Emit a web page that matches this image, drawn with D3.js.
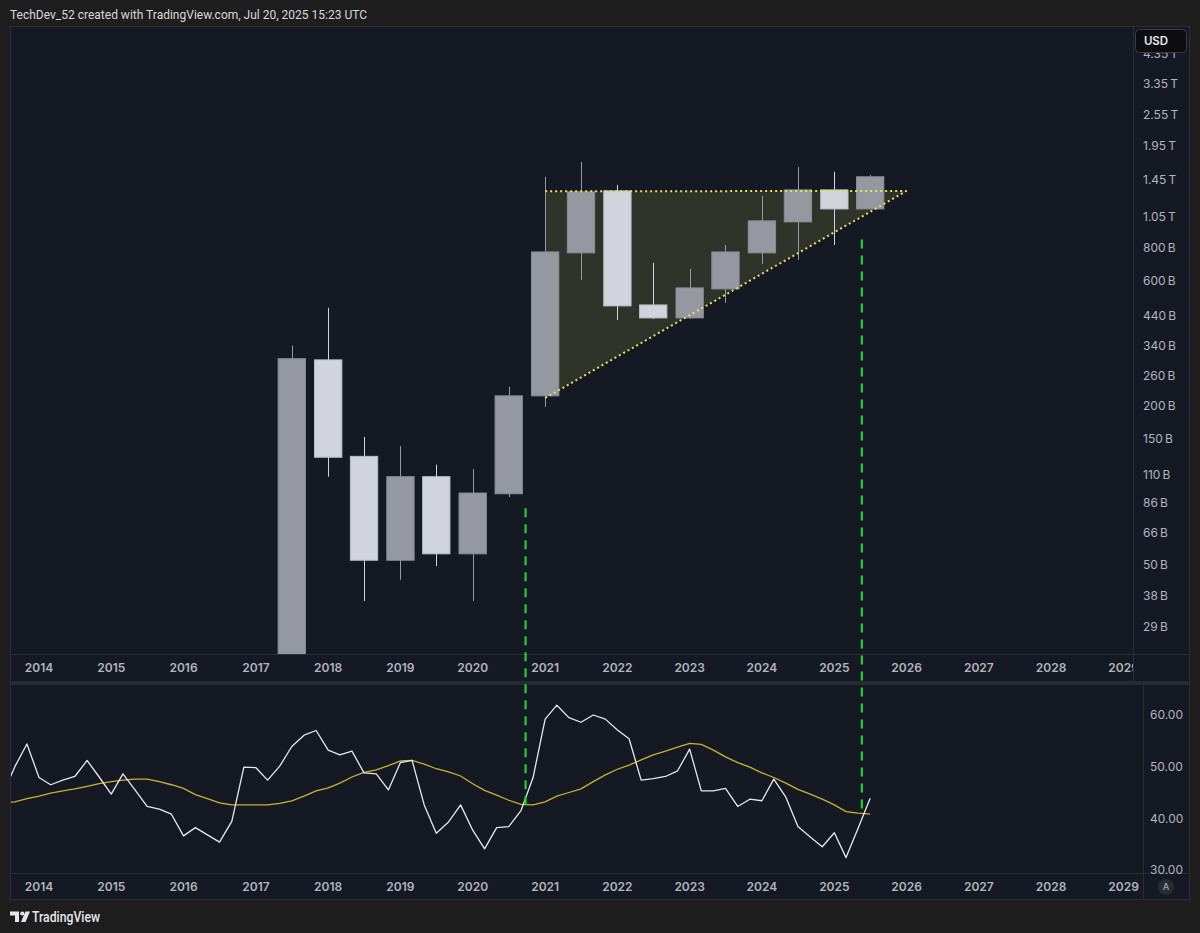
<!DOCTYPE html>
<html><head><meta charset="utf-8">
<script src="https://cdn.jsdelivr.net/npm/d3@7"></script>
<style>html,body{margin:0;padding:0;background:#1e1e1e;}svg{display:block;}</style>
</head><body><svg id="c" width="1200" height="933"></svg>
<script>
// ---------- DATA ----------
const candleDates = ["2017-07-01","2018-01-01","2018-07-01","2019-01-01","2019-07-01","2020-01-01","2020-07-01","2021-01-01","2021-07-01","2022-01-01","2022-07-01","2023-01-01","2023-07-01","2024-01-01","2024-07-01","2025-01-01","2025-07-01"];
const opens  = [20e9, 300e9, 129e9, 52e9, 108e9, 55e9, 93e9, 219e9, 765e9, 1315e9, 485e9, 433e9, 558e9, 765e9, 1003e9, 1327e9, 1123e9];
const highs  = [340e9, 473e9, 153e9, 141e9, 120e9, 115.5e9, 237e9, 1488e9, 1694e9, 1387e9, 701e9, 665e9, 820e9, 1259e9, 1622e9, 1554e9, 1514e9];
const lows   = [18e9, 108e9, 36.4e9, 43.8e9, 49.4e9, 36.4e9, 90.4e9, 199e9, 604e9, 425e9, 429e9, 430e9, 494e9, 695e9, 719e9, 820e9, 1123e9];
const closes = [303e9, 128e9, 52e9, 108e9, 55e9, 93.6e9, 219e9, 771e9, 1304e9, 481e9, 433e9, 563e9, 771e9, 1012e9, 1327e9, 1123e9, 1488e9];

const priceTicks = [29e9, 38e9, 50e9, 66e9, 86e9, 110e9, 150e9, 200e9, 260e9, 340e9, 440e9, 600e9, 800e9, 1.05e12, 1.45e12, 1.95e12, 2.55e12, 3.35e12, 4.35e12];
const yearTicks = [2014, 2015, 2016, 2017, 2018, 2019, 2020, 2021, 2022, 2023, 2024, 2025, 2026, 2027, 2028, 2029];
const rsiTicks = [30, 40, 50, 60];

// RSI (2-month bars), starting Jul 2013
const rsiStart = "2013-07-01";
const rsiValues = [44.5, 50.0, 54.4, 47.9, 46.5, 47.4, 48.1, 51.2, 48.0, 44.7, 48.6, 45.5, 42.3, 41.8, 40.8, 36.6, 38.2, 36.8, 35.4, 39.4,
  49.9, 49.8, 47.4, 50.1, 53.9, 56.1, 57.0, 53.2, 52.3, 53.0, 48.8, 48.6, 45.5, 50.8, 51.2, 42.6, 37.1, 39.3, 42.6, 37.7,
  34.1, 38.2, 38.4, 41.5, 47.9, 59.2, 61.9, 59.5, 58.6, 60.0, 59.2, 57.1, 55.4, 47.4, 47.7, 48.1, 49.2, 53.4, 45.3, 45.3,
  45.8, 42.3, 43.7, 43.4, 47.6, 44.1, 38.4, 36.4, 34.5, 37.2, 32.4, 38.1, 43.9];
const rsiMaValues = [43.0, 43.2, 43.8, 44.3, 44.9, 45.3, 45.7, 46.2, 46.7, 47.1, 47.4, 47.6, 47.6, 47.1, 46.5, 45.8, 44.6, 43.8, 43.0, 42.6,
  42.6, 42.6, 42.6, 42.9, 43.4, 44.3, 45.3, 45.9, 46.8, 48.0, 48.9, 49.4, 50.2, 51.1, 51.2, 50.5, 49.6, 49.0, 48.2, 46.7,
  45.4, 44.5, 43.5, 42.7, 42.6, 43.2, 44.3, 45.0, 45.7, 47.1, 48.4, 49.5, 50.3, 51.3, 52.3, 53.0, 53.8, 54.5, 54.3, 53.2,
  51.9, 50.8, 49.9, 48.8, 47.9, 46.8, 45.6, 44.7, 43.7, 42.6, 41.3, 41.0, 40.8];

// Triangle drawing (date, value)
const triDates = ["2021-01-01", "2026-01-01", "2021-01-01"];
const triValues = [1.31e12, 1.315e12, 215e9];

// Green dashed verticals: date, top (price), bottom (RSI)
const markerDates = ["2020-09-24", "2025-05-20"];
const markerTopPrice = [82e9, 859e9];
const markerBottomRsi = [41.4, 40.8];

// ---------- LAYOUT ----------
const svg = d3.select("#c");
const PL = 10, PR = 1190, PT = 26, PB = 900;
const priceRight = 1133, priceBottom = 654;
const axis1Bottom = 681, rsiTop = 685, rsiRight = 1143, rsiBottom = 873;
const BG = "#151924", LINE = "#2a2e39", TXT = "#b2b5be";
const FONT = "Inter, 'Noto Sans', sans-serif";
const FONT2 = "Roboto, 'Noto Sans', sans-serif";

const parse = d3.utcParse("%Y-%m-%d");
const x = d3.scaleUtc().domain([Date.UTC(2014,0,1), Date.UTC(2026,0,1)]).range([39, 906.6]);
const y = d3.scaleLog().domain([29e9, 3.35e12]).range([627, 84]);
const yr = d3.scaleLinear().domain([30, 60]).range([870, 715]);

// backgrounds
svg.append("rect").attr("width",1200).attr("height",933).attr("fill","#1e1e1e");
svg.append("rect").attr("x",PL).attr("y",PT).attr("width",PR-PL).attr("height",PB-PT).attr("fill",BG);
svg.append("rect").attr("x",PL).attr("y",axis1Bottom).attr("width",PR-PL).attr("height",rsiTop-axis1Bottom).attr("fill","#262a33");
const g0 = svg.append("g").attr("stroke",LINE).attr("stroke-width",1).attr("fill","none");
g0.append("rect").attr("x",PL+0.5).attr("y",PT+0.5).attr("width",PR-PL-1).attr("height",PB-PT-1);
g0.append("line").attr("x1",PL).attr("x2",PR).attr("y1",priceBottom+0.5).attr("y2",priceBottom+0.5);
g0.append("line").attr("x1",PL).attr("x2",PR).attr("y1",rsiBottom+0.5).attr("y2",rsiBottom+0.5);
g0.append("line").attr("x1",priceRight+0.5).attr("x2",priceRight+0.5).attr("y1",PT).attr("y2",axis1Bottom);
g0.append("line").attr("x1",rsiRight+0.5).attr("x2",rsiRight+0.5).attr("y1",rsiTop).attr("y2",PB);

// clips
const defs = svg.append("defs");
defs.append("clipPath").attr("id","cp").append("rect").attr("x",PL+1).attr("y",PT+1).attr("width",priceRight-PL-1).attr("height",priceBottom-PT-1);
defs.append("clipPath").attr("id","cr").append("rect").attr("x",PL+1).attr("y",rsiTop).attr("width",rsiRight-PL-1).attr("height",rsiBottom-rsiTop);
defs.append("clipPath").attr("id","ct1").append("rect").attr("x",PL+1).attr("y",priceBottom).attr("width",priceRight-PL-1).attr("height",axis1Bottom-priceBottom);
defs.append("clipPath").attr("id","ct2").append("rect").attr("x",PL+1).attr("y",rsiBottom).attr("width",rsiRight-PL-1).attr("height",PB-rsiBottom);
defs.append("clipPath").attr("id","cg").append("rect").attr("x",PL+1).attr("y",PT+1).attr("width",priceRight-PL-1).attr("height",rsiBottom-PT-1);

// ---------- PRICE PANE ----------
const gp = svg.append("g").attr("clip-path","url(#cp)");
const triPts = triDates.map((d,i)=>[x(parse(d)), y(triValues[i])]);
gp.append("path").attr("d", d3.line()(triPts) + "Z").attr("fill","rgba(185,185,70,0.17)");

const candles = candleDates.map((d,i)=>({t:parse(d), o:opens[i], h:highs[i], l:lows[i], c:closes[i]}));
const bw = (x(parse("2018-01-01")) - x(parse("2017-07-01"))) * 0.75;
const col = d => d.c >= d.o ? "#9598a1" : "#d1d4dc";
const gc = gp.selectAll("g.cd").data(candles).join("g");
gc.append("line").attr("x1",d=>Math.round(x(d.t))+0.5).attr("x2",d=>Math.round(x(d.t))+0.5)
  .attr("y1",d=>y(d.h)).attr("y2",d=>y(d.l)).attr("stroke",col).attr("stroke-width",1);
gc.append("rect").attr("x",d=>x(d.t)-bw/2).attr("width",bw)
  .attr("y",d=>y(Math.max(d.o,d.c))).attr("height",d=>Math.max(1,y(Math.min(d.o,d.c))-y(Math.max(d.o,d.c))))
  .attr("fill",col).attr("stroke",d=>d.c>=d.o?"#8a8d96":"#babdc6").attr("stroke-width",1);

gp.append("path").attr("d", d3.line()([triPts[0],triPts[1]])).attr("stroke","#e6e35a").attr("stroke-width",2).attr("stroke-dasharray","2,3").attr("fill","none");
gp.append("path").attr("d", d3.line()([triPts[2],triPts[1]])).attr("stroke","#e6e35a").attr("stroke-width",2).attr("stroke-dasharray","2,3").attr("fill","none");

// price axis labels
const fmtP = v => v >= 1e12 ? d3.format(".2f")(v/1e12) + "\u2009T" : d3.format("d")(v/1e9) + "\u2009B";
svg.append("g").selectAll("text").data(priceTicks).join("text")
  .attr("x",1143).attr("y",d=>y(d)).attr("dy","0.35em")
  .attr("font-family",FONT).attr("font-size",12).attr("fill",TXT).text(fmtP);
svg.append("rect").attr("x",1135.5).attr("y",29.5).attr("width",51).attr("height",23).attr("rx",4)
  .attr("fill","#0c0d10").attr("stroke","#3a3d46");
svg.append("text").attr("x",1156).attr("y",41).attr("dy","0.35em").attr("text-anchor","middle")
  .attr("font-family",FONT).attr("font-size",11.5).attr("font-weight",600).attr("fill","#e8e9ec").text("USD");

// time axis 1
const yrDate = v => new Date(Date.UTC(v,0,1));
svg.append("g").attr("clip-path","url(#ct1)").selectAll("text").data(yearTicks).join("text")
  .attr("x",d=>x(yrDate(d))).attr("y",668).attr("dy","0.35em").attr("text-anchor","middle")
  .attr("font-family",FONT).attr("font-size",12).attr("font-weight",600).attr("fill",TXT).text(d=>d);

// ---------- RSI PANE ----------
const rsiDates = rsiValues.map((_,i)=>d3.utcMonth.offset(parse(rsiStart), 2*i));
const gr = svg.append("g").attr("clip-path","url(#cr)");
const lineR = d3.line().x((d,i)=>x(rsiDates[i])).y(d=>yr(d));
gr.append("path").attr("d", lineR(rsiMaValues)).attr("fill","none").attr("stroke","#c9b52c").attr("stroke-width",1.3);
gr.append("path").attr("d", lineR(rsiValues)).attr("fill","none").attr("stroke","#e6e8ee").attr("stroke-width",1.3).attr("stroke-linejoin","round");

svg.append("g").selectAll("text").data(rsiTicks).join("text")
  .attr("x",1150).attr("y",d=>yr(d)).attr("dy","0.35em")
  .attr("font-family",FONT).attr("font-size",12).attr("fill",TXT).text(d=>d3.format(".2f")(d));

svg.append("g").attr("clip-path","url(#ct2)").selectAll("text").data(yearTicks).join("text")
  .attr("x",d=>x(yrDate(d))).attr("y",887).attr("dy","0.35em").attr("text-anchor","middle")
  .attr("font-family",FONT).attr("font-size",12).attr("font-weight",600).attr("fill",TXT).text(d=>d);
svg.append("circle").attr("cx",1166).attr("cy",887).attr("r",8).attr("fill","#2a2d35");
svg.append("text").attr("x",1166).attr("y",887).attr("dy","0.35em").attr("text-anchor","middle")
  .attr("font-family",FONT).attr("font-size",9).attr("font-weight",600).attr("fill","#9598a1").text("A");

// ---------- GREEN MARKERS ----------
const gg = svg.append("g").attr("clip-path","url(#cg)");
markerDates.forEach((d,i)=>{
  const xx = x(parse(d));
  gg.append("line").attr("x1",xx).attr("x2",xx).attr("y1",y(markerTopPrice[i])).attr("y2",yr(markerBottomRsi[i]))
    .attr("stroke","#22d12a").attr("stroke-width",2.2).attr("stroke-dasharray","9,7");
});

// ---------- HEADER / FOOTER ----------
svg.append("text").attr("x",10).attr("y",18.5).attr("font-family",FONT2).attr("font-size",13)
  .attr("textLength",357).attr("lengthAdjust","spacingAndGlyphs")
  .attr("fill","#d8d9dc").text("TechDev_52 created with TradingView.com, Jul 20, 2025 15:23 UTC");
const logo = svg.append("g").attr("fill","#e6e7ea");
logo.append("path").attr("d","M10,911.5 H19 V922 H15 V915.5 H10 Z");
logo.append("circle").attr("cx",22.3).attr("cy",913.5).attr("r",2.1);
logo.append("path").attr("d","M25.5,911.5 H30 L25.5,922 H21 Z");
svg.append("text").attr("x",32).attr("y",922).attr("font-family",FONT2).attr("font-size",14).attr("font-weight",500)
  .attr("textLength",68).attr("lengthAdjust","spacingAndGlyphs")
  .attr("fill","#e6e7ea").text("TradingView");
</script></body></html>
